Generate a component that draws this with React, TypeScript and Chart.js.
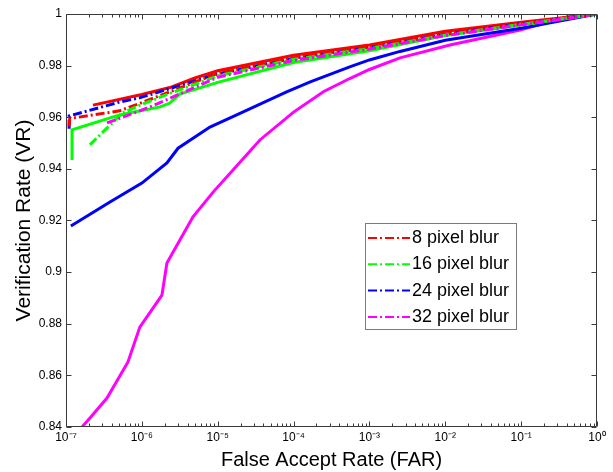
import React, { useEffect, useRef } from 'react';
import { Chart, registerables } from 'chart.js';

Chart.register(...registerables);

// ---- axis ticks ----
const xTickExponents = [-7, -6, -5, -4, -3, -2, -1, 0];
const yTickValues = [0.84, 0.86, 0.88, 0.9, 0.92, 0.94, 0.96, 0.98, 1];

// ---- legend ----
const legendLabels = ['8 pixel blur', '16 pixel blur', '24 pixel blur', '32 pixel blur'];
const seriesColors = ['#ff0000', '#00ff00', '#0000ff', '#ff00ff'];

// ---- solid curves (FAR, VR) ----
const redSolidFar = [2.27e-7, 1e-6, 2.34e-6, 5e-6, 1e-5, 1e-4, 1e-3, 1e-2, 1e-1, 1];
const redSolidVr = [0.9647, 0.9688, 0.9715, 0.9752, 0.978, 0.984, 0.988, 0.9933, 0.9968, 1.0];

const greenSolidFar = [1.2e-7, 1.2e-7, 5.1e-7, 1.74e-6, 2.34e-6, 3.16e-6, 1e-5, 1e-4, 1e-3, 1e-2, 1e-1, 1];
const greenSolidVr = [0.9434, 0.9551, 0.9609, 0.964, 0.9655, 0.969, 0.9735, 0.9812, 0.9858, 0.9917, 0.9957, 1.0];

const blueSolidFar = [1.16e-7, 3.8e-7, 1e-6, 2.14e-6, 3e-6, 7.9e-6, 1.78e-5, 8.1e-5, 1.66e-4, 5.5e-4, 1e-3, 2.53e-3, 1e-2, 1e-1, 1];
const blueSolidVr = [0.9179, 0.9272, 0.9345, 0.9423, 0.948, 0.9562, 0.9609, 0.9698, 0.9737, 0.9795, 0.9822, 0.9855, 0.9898, 0.9945, 1.0];

const magentaSolidFar = [1.63e-7, 2.07e-7, 3.47e-7, 6.56e-7, 9.4e-7, 1.84e-6, 2.14e-6, 4.72e-6, 8.7e-6, 2.09e-5, 3.6e-5, 1e-4, 2.5e-4, 5.5e-4, 1e-3, 2.53e-3, 1.15e-2, 9.7e-2, 0.4, 1];
const magentaSolidVr = [0.84, 0.8435, 0.8512, 0.8652, 0.8787, 0.8911, 0.9035, 0.9214, 0.931, 0.9434, 0.9512, 0.962, 0.97, 0.975, 0.9785, 0.983, 0.988, 0.9938, 0.9988, 1.0];

// ---- dash-dot curves (FAR, VR) ----
const redDashFar = [1.1e-7, 1.12e-7, 5.1e-7, 8.7e-7, 1e-5, 1e-4, 1e-3, 1e-2, 1e-1, 1];
const redDashVr = [0.9565, 0.9595, 0.9625, 0.965, 0.977, 0.983, 0.9872, 0.9922, 0.9962, 1.0];

const greenDashFar = [2.07e-7, 5.5e-7, 9.5e-7, 2.04e-6, 1e-5, 1e-4, 1e-3, 1e-2, 1e-1, 1];
const greenDashVr = [0.9493, 0.9616, 0.9647, 0.9686, 0.976, 0.9824, 0.9866, 0.9918, 0.996, 1.0];

const blueDashFar = [1.1e-7, 1.1e-7, 5.1e-7, 9.3e-7, 1e-5, 1e-4, 1e-3, 1e-2, 1e-1, 1];
const blueDashVr = [0.9555, 0.9605, 0.9659, 0.9675, 0.9768, 0.9828, 0.987, 0.9922, 0.9962, 1.0];

const magentaDashFar = [3.47e-7, 8.5e-7, 1.41e-6, 1e-5, 1e-4, 1e-3, 1e-2, 1e-1, 1];
const magentaDashVr = [0.9578, 0.962, 0.9645, 0.9755, 0.982, 0.9864, 0.9916, 0.9958, 1.0];

const FONT = "Arial, 'Liberation Sans', sans-serif";
const DASH = [9, 3, 2, 3];

const SUP: Record<string, string> = {
  '-': '\u207B', '0': '\u2070', '1': '\u00B9', '2': '\u00B2', '3': '\u00B3',
  '4': '\u2074', '5': '\u2075', '6': '\u2076', '7': '\u2077', '8': '\u2078', '9': '\u2079',
};
const sup = (s: string) => s.split('').map((c) => SUP[c] || c).join('');

const zip = (xs: number[], ys: number[]) => xs.map((x, i) => ({ x, y: ys[i] }));

const framePlugin = {
  id: 'matlabFrame',
  afterDatasetsDraw(chart: any) {
    const { ctx, chartArea: a, scales } = chart;
    const xs = scales.x;
    const ys = scales.y;
    const L = Math.round(a.left) + 0.5;
    const R = Math.round(a.right) - 0.5;
    const T = Math.round(a.top) + 0.5;
    const B = Math.round(a.bottom) - 0.5;
    ctx.save();
    ctx.strokeStyle = '#3a3a3a';
    ctx.lineWidth = 1;
    ctx.beginPath();
    ctx.moveTo(L, T); ctx.lineTo(R, T); ctx.lineTo(R, B); ctx.lineTo(L, B); ctx.closePath();
    for (let i = 0; i < xTickExponents.length; i++) {
      const e = xTickExponents[i];
      const px = Math.round(xs.getPixelForValue(Math.pow(10, e))) + 0.5;
      ctx.moveTo(px, B); ctx.lineTo(px, B - 5);
      ctx.moveTo(px, T); ctx.lineTo(px, T + 5);
      if (i < xTickExponents.length - 1) {
        for (let m = 2; m <= 9; m++) {
          const mx = Math.round(xs.getPixelForValue(m * Math.pow(10, e))) + 0.5;
          ctx.moveTo(mx, B); ctx.lineTo(mx, B - 3);
          ctx.moveTo(mx, T); ctx.lineTo(mx, T + 3);
        }
      }
    }
    for (const v of yTickValues) {
      const py = Math.round(ys.getPixelForValue(v)) + 0.5;
      ctx.moveTo(L, py); ctx.lineTo(L + 5, py);
      ctx.moveTo(R, py); ctx.lineTo(R - 5, py);
    }
    ctx.stroke();
    ctx.restore();
  },
};

const legendPlugin = {
  id: 'boxLegend',
  afterDraw(chart: any) {
    const { ctx } = chart;
    const box = { x: 365, y: 223, w: 152, h: 107 };
    ctx.save();
    ctx.fillStyle = '#ffffff';
    ctx.fillRect(box.x, box.y, box.w, box.h);
    ctx.strokeStyle = '#7a7a7a';
    ctx.lineWidth = 1;
    ctx.strokeRect(box.x + 0.5, box.y + 0.5, box.w - 1, box.h - 1);
    ctx.font = `18px ${FONT}`;
    ctx.textBaseline = 'middle';
    ctx.fillStyle = '#000000';
    legendLabels.forEach((label, i) => {
      const cy = box.y + 15 + i * 26.3;
      ctx.strokeStyle = seriesColors[i];
      ctx.lineWidth = 2;
      ctx.setLineDash(DASH);
      ctx.beginPath();
      ctx.moveTo(box.x + 3, cy);
      ctx.lineTo(box.x + 45, cy);
      ctx.stroke();
      ctx.setLineDash([]);
      ctx.fillText(label, box.x + 47, cy);
    });
    ctx.restore();
  },
};

export default function App() {
  const canvasRef = useRef<HTMLCanvasElement | null>(null);

  useEffect(() => {
    const canvas = canvasRef.current;
    if (!canvas) return;
    const solid = (far: number[], vr: number[], color: string) => ({
      data: zip(far, vr),
      borderColor: color,
      backgroundColor: color,
      borderWidth: 3,
      pointRadius: 0,
      tension: 0,
      fill: false,
      order: 2,
    });
    const dashed = (far: number[], vr: number[], color: string, label: string) => ({
      label,
      data: zip(far, vr),
      borderColor: color,
      backgroundColor: color,
      borderWidth: 3,
      borderDash: DASH,
      pointRadius: 0,
      tension: 0,
      fill: false,
      order: 1,
    });
    const chart = new Chart(canvas, {
      type: 'line',
      data: {
        datasets: [
          solid(redSolidFar, redSolidVr, seriesColors[0]),
          solid(greenSolidFar, greenSolidVr, seriesColors[1]),
          solid(blueSolidFar, blueSolidVr, seriesColors[2]),
          solid(magentaSolidFar, magentaSolidVr, seriesColors[3]),
          dashed(magentaDashFar, magentaDashVr, seriesColors[3], legendLabels[3]),
          dashed(greenDashFar, greenDashVr, seriesColors[1], legendLabels[1]),
          dashed(redDashFar, redDashVr, seriesColors[0], legendLabels[0]),
          dashed(blueDashFar, blueDashVr, seriesColors[2], legendLabels[2]),
        ] as any,
      },
      options: {
        animation: false,
        responsive: false,
        devicePixelRatio: 1,
        layout: { padding: { top: 14, right: 16, left: 0, bottom: 0 } },
        plugins: { legend: { display: false }, tooltip: { enabled: false } },
        scales: {
          x: {
            type: 'logarithmic',
            min: 1e-7,
            max: 1,
            grid: { display: false, drawTicks: false },
            border: { display: false },
            afterBuildTicks: (scale: any) => {
              scale.ticks = xTickExponents.map((e) => ({ value: Math.pow(10, e) }));
            },
            afterFit: (scale: any) => { scale.height = 45; },
            ticks: {
              autoSkip: false,
              maxRotation: 0,
              padding: 3,
              color: '#000000',
              font: { family: FONT, size: 12 },
              callback: (v: any) => '10' + sup(String(Math.round(Math.log10(Number(v))))),
            },
            title: {
              display: true,
              text: 'False Accept Rate (FAR)',
              color: '#000000',
              font: { family: FONT, size: 20 },
              padding: { top: 0, bottom: 0 },
            },
          },
          y: {
            type: 'linear',
            min: 0.84,
            max: 1,
            grid: { display: false, drawTicks: false },
            border: { display: false },
            afterBuildTicks: (scale: any) => {
              scale.ticks = yTickValues.map((v) => ({ value: v }));
            },
            afterFit: (scale: any) => { scale.width = 66; },
            ticks: {
              autoSkip: false,
              padding: 4,
              color: '#000000',
              font: { family: FONT, size: 12 },
              callback: (v: any) => String(Number(Number(v).toFixed(2))),
            },
            title: {
              display: true,
              text: 'Verification Rate (VR)',
              color: '#000000',
              font: { family: FONT, size: 21 },
              padding: { top: 12, bottom: 0 },
            },
          },
        },
      } as any,
      plugins: [framePlugin, legendPlugin],
    });
    return () => chart.destroy();
  }, []);

  return (
    <div style={{ position: 'fixed', left: 0, top: 0, width: 613, height: 472, background: '#ffffff' }}>
      <canvas ref={canvasRef} width={613} height={472} style={{ display: 'block', width: 613, height: 472 }} />
    </div>
  );
}
